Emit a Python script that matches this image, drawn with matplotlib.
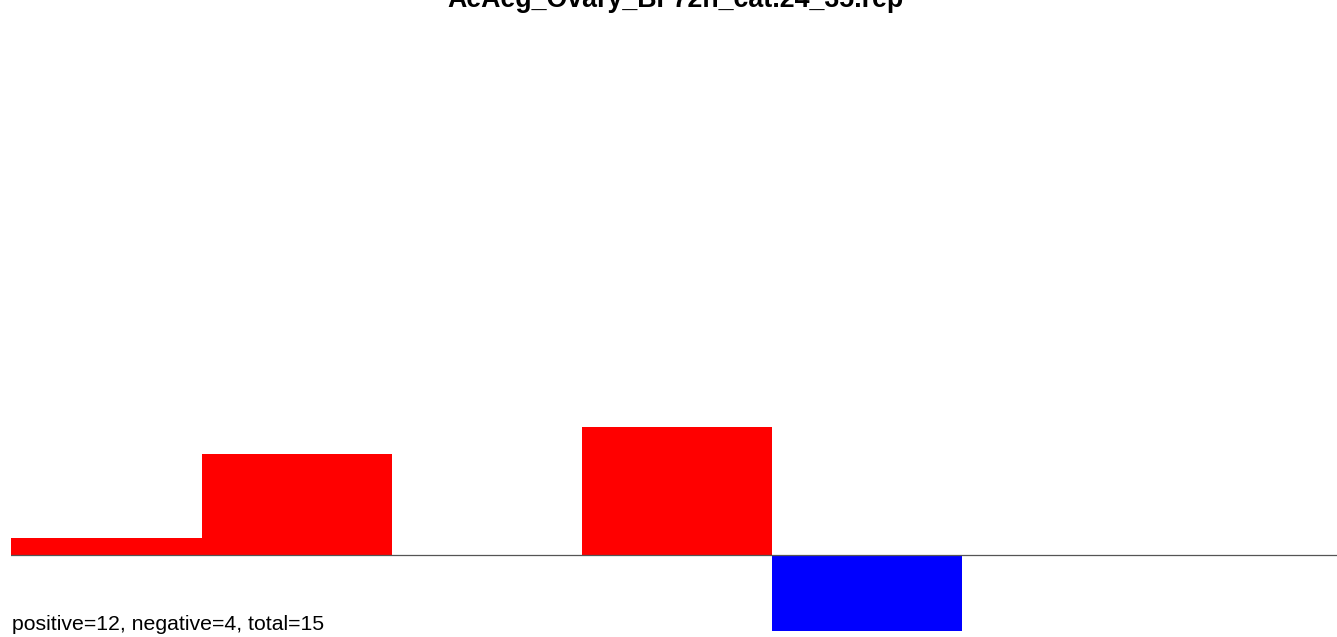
import matplotlib
matplotlib.use('Agg')
import matplotlib.pyplot as plt
import numpy as np

plt.rcParams['font.family'] = ['Liberation Sans', 'DejaVu Sans']

title = 'AeAeg_Ovary_BF72h_cat.24_35.rep'
summary = 'positive=12, negative=4, total=15'

# bin scores (arbitrary units)
bins = np.arange(7)
scores = [0.17, 1.01, 0.0, 1.28, -0.76, 0.0, 0.0]

W, H = 1337, 637
fig = plt.figure(figsize=(W / 100, H / 100), dpi=100)
ax = fig.add_axes([11.5 / W, 0, 1330 / W, 1])

colors = ['red' if s >= 0 else 'blue' for s in scores]
ax.bar(bins, scores, width=1.0, align='edge', color=colors, linewidth=0)
ax.axhline(0, color='#555555', linewidth=0.9)

ax.set_xlim(0, 7)
ax.set_ylim(-0.82, 5.55)
ax.axis('off')

# title sits partly above the top edge, as in the original
fig.text(675 / W, 1 - 7 / H, title, ha='center', va='baseline',
         fontsize=19.3, fontweight='bold')
fig.text(12 / W, 1 - 630 / H, summary, ha='left', va='baseline', fontsize=15.3)

fig.savefig('out.png', dpi=100)
